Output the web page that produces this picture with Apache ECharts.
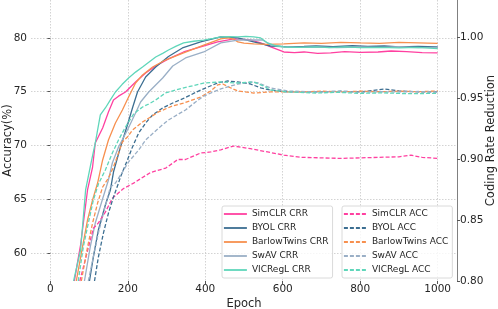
<!DOCTYPE html>
<html><head><meta charset="utf-8">
<script src="https://cdn.jsdelivr.net/npm/echarts@6/dist/echarts.min.js"></script>
<style>html,body{margin:0;padding:0;background:#fff}#c{width:498px;height:309px}</style>
</head><body><div id="c"></div>
<script>
// ---------- data ----------
const methods = ['SimCLR', 'BYOL', 'BarlowTwins', 'SwAV', 'VICRegL'];
const xTicks = [0, 200, 400, 600, 800, 1000];
const accTicks = [60, 65, 70, 75, 80];
const crrTicks = [0.80, 0.85, 0.90, 0.95, 1.00];

// Coding Rate Reduction (right axis), [epoch, value]
const simclrCRR = [[62,0.800],[70,0.815],[78,0.8295],[96,0.8746],[109,0.8934],[116,0.9131],[135,0.9254],[150,0.9385],[163,0.9484],[176,0.9515],[194,0.9549],[220,0.9631],[246,0.9705],[272,0.9762],[305,0.9820],[344,0.9877],[388,0.9918],[432,0.9959],[474,0.9984],[500,0.9980],[518,0.9975],[543,0.9951],[569,0.9918],[603,0.9877],[630,0.9872],[655,0.9877],[690,0.9865],[724,0.9869],[760,0.9880],[800,0.9874],[846,0.9877],[880,0.9885],[920,0.9880],[960,0.9872],[1000,0.9869]];
const byolCRR = [[101,0.800],[111,0.8197],[124,0.8418],[142,0.8623],[155,0.8746],[163,0.8893],[181,0.9098],[199,0.9279],[212,0.9418],[225,0.9549],[246,0.9672],[272,0.9754],[305,0.9840],[341,0.9910],[388,0.9959],[440,1.0000],[484,0.9992],[525,0.9959],[569,0.9926],[613,0.9918],[655,0.9922],[686,0.9926],[730,0.9920],[780,0.9928],[820,0.9922],[862,0.9926],[900,0.9918],[950,0.9922],[1000,0.9918]];
const barlowCRR = [[67,0.800],[83,0.8279],[96,0.8500],[109,0.8664],[122,0.8803],[135,0.8992],[150,0.9156],[168,0.9295],[186,0.9402],[202,0.9508],[220,0.9623],[238,0.9689],[264,0.9754],[297,0.9811],[344,0.9869],[396,0.9934],[440,0.9984],[460,0.9992],[475,0.9980],[484,0.9959],[500,0.9950],[525,0.9943],[560,0.9940],[603,0.9943],[655,0.9951],[700,0.9948],[750,0.9955],[800,0.9951],[850,0.9948],[900,0.9955],[950,0.9951],[1000,0.9947]];
const swavCRR = [[88,0.800],[103,0.8279],[116,0.8475],[134,0.8664],[150,0.8828],[160,0.8967],[176,0.9098],[199,0.9238],[220,0.9377],[233,0.9467],[254,0.9549],[290,0.9664],[316,0.9762],[349,0.9828],[396,0.9877],[440,0.9951],[484,0.9975],[525,0.9975],[548,0.9975],[569,0.9934],[603,0.9918],[650,0.9915],[686,0.9918],[740,0.9912],[800,0.9918],[850,0.9915],[900,0.9920],[950,0.9912],[1000,0.9915]];
const vicreglCRR = [[60,0.800],[78,0.8254],[91,0.8746],[104,0.8951],[116,0.9131],[129,0.9361],[142,0.9418],[155,0.9484],[168,0.9549],[185,0.9610],[202,0.9664],[220,0.9712],[238,0.9754],[255,0.9795],[272,0.9836],[290,0.9866],[305,0.9893],[325,0.9925],[344,0.9951],[370,0.9965],[396,0.9975],[420,0.9988],[440,1.0000],[462,1.0003],[484,1.0000],[505,1.0005],[525,1.0000],[543,0.9992],[561,0.9951],[580,0.9930],[603,0.9918],[640,0.9915],[686,0.9918],[720,0.9912],[760,0.9918],[800,0.9912],[850,0.9915],[900,0.9910],[950,0.9915],[1000,0.9905]];

// Accuracy (left axis), [epoch, value]
const simclrACC = [[76,57.4],[111,62.3],[124,62.8],[142,63.8],[160,65.1],[189,66.0],[215,66.5],[228,66.8],[259,67.5],[298,67.9],[329,68.7],[349,68.7],[388,69.3],[414,69.4],[440,69.6],[473,69.95],[517,69.7],[561,69.4],[603,69.1],[650,68.9],[700,68.85],[750,68.8],[800,68.85],[850,68.9],[900,68.95],[931,69.1],[960,68.9],[1000,68.8]];
const byolACC = [[114,57.4],[124,59.63],[137,61.86],[150,63.72],[163,65.21],[176,66.51],[181,67.07],[199,68.65],[212,69.86],[228,71.16],[246,72.09],[264,72.84],[290,73.49],[316,73.95],[341,74.33],[388,75.16],[432,75.81],[458,76.0],[484,75.91],[517,75.72],[543,75.35],[569,75.16],[613,74.98],[686,74.98],[750,75.05],[800,74.98],[862,75.26],[900,75.07],[950,75.0],[1000,75.0]];
const barlowACC = [[80,57.4],[96,60.56],[109,62.79],[122,64.65],[135,66.14],[150,66.98],[163,68.0],[176,69.3],[186,70.33],[199,70.79],[212,71.44],[225,71.81],[238,72.19],[259,72.65],[279,73.12],[315,73.67],[344,73.95],[388,74.51],[414,75.07],[432,75.63],[445,75.72],[466,75.35],[484,75.07],[525,74.88],[569,74.98],[650,74.98],[700,75.05],[750,74.98],[800,75.05],[850,75.0],[900,75.05],[950,75.0],[1000,75.07]];
const swavACC = [[98,57.4],[111,59.63],[124,61.86],[137,63.72],[155,66.14],[168,66.51],[186,67.53],[202,68.47],[228,69.58],[246,70.51],[280,71.63],[305,72.37],[331,72.93],[349,73.3],[375,74.05],[396,74.6],[440,75.26],[484,75.72],[517,75.91],[538,75.81],[569,75.35],[613,75.07],[686,74.98],[750,75.02],[800,74.95],[850,75.0],[900,74.98],[950,75.02],[1000,74.98]];
const vicreglACC = [[72,57.4],[85,60.56],[98,62.79],[111,64.93],[124,66.42],[142,67.72],[160,69.3],[176,70.51],[194,71.72],[215,72.93],[238,73.58],[254,73.86],[272,74.23],[297,74.88],[323,75.16],[354,75.44],[396,75.81],[440,75.91],[484,75.81],[525,75.91],[551,75.53],[569,75.16],[613,74.98],[686,74.88],[740,74.95],[800,74.85],[860,74.9],[920,74.82],[1000,74.85]];

// ---------- style ----------
const colors = ['#FF40A0', '#3C6E91', '#F7904F', '#9AAFC6', '#5FD6BA'];
const FONT = 'DejaVu Sans';
const TXT = '#262626';
const crrData = [simclrCRR, byolCRR, barlowCRR, swavCRR, vicreglCRR];
const accData = [simclrACC, byolACC, barlowACC, swavACC, vicreglACC];

const near = (arr, v) => arr.some(t => Math.abs(t - v) < 1e-6);
const series = [];
methods.forEach((m, i) => {
  series.push({
    name: m + ' CRR', type: 'line', yAxisIndex: 1, data: crrData[i],
    symbol: 'none', showSymbol: false, clip: true,
    lineStyle: { color: colors[i], width: 1.3 }, itemStyle: { color: colors[i] }
  });
});
methods.forEach((m, i) => {
  series.push({
    name: m + ' ACC', type: 'line', yAxisIndex: 0, data: accData[i],
    symbol: 'none', showSymbol: false, clip: true,
    lineStyle: { color: colors[i], width: 1.3, type: [4, 2] }, itemStyle: { color: colors[i] }
  });
});

const gridLine = { show: true, showMinLine: false, showMaxLine: false, lineStyle: { color: '#c8c8c8', width: 0.8, type: [1.5, 1.5] } };
const legendBase = {
  orient: 'vertical', top: 206, itemWidth: 23, itemHeight: 10, itemGap: 4,
  padding: [3, 4, 3, 1], backgroundColor: 'rgba(255,255,255,0.8)',
  borderColor: '#d0d0d0', borderWidth: 0.8, borderRadius: 2, selectedMode: false,
  textStyle: { fontFamily: FONT, fontSize: 9, color: TXT, lineHeight: 10 },
  lineStyle: { width: 1.8 },
  itemStyle: { color: 'transparent', borderColor: 'transparent', borderWidth: 0, opacity: 0 }
};

const chart = echarts.init(document.getElementById('c'), null, { renderer: 'canvas' });
chart.setOption({
  animation: false,
  backgroundColor: '#fff',
  textStyle: { fontFamily: FONT },
  grid: { left: 31, right: 41, top: 0, bottom: 28, containLabel: false, outerBoundsMode: 'none' },
  legend: [
    Object.assign({}, legendBase, { left: 222, data: methods.map(m => m + ' CRR') }),
    Object.assign({}, legendBase, { left: 342, data: methods.map(m => m + ' ACC') })
  ],
  xAxis: {
    type: 'value', min: -50, max: 1050,
    name: 'Epoch', nameLocation: 'middle', nameGap: 17, nameMoveOverlap: false,
    nameTextStyle: { fontFamily: FONT, fontSize: 11.5, color: TXT },
    axisLine: { show: false },
    axisTick: { show: true, length: 3, lineStyle: { color: '#555' } },
    axisLabel: { fontFamily: FONT, fontSize: 10.5, color: TXT, margin: 3, showMinLabel: false, showMaxLabel: false,
      formatter: v => near(xTicks, v) ? String(Math.round(v)) : '' },
    splitLine: gridLine
  },
  yAxis: [
    {
      type: 'value', position: 'left', min: 57.4, max: 83.53,
      name: 'Accuracy(%)', nameLocation: 'middle', nameGap: 17, nameRotate: 90, nameMoveOverlap: false,
      nameTextStyle: { fontFamily: FONT, fontSize: 11.5, color: TXT },
      axisLine: { show: false },
      axisTick: { show: true, length: 3, lineStyle: { color: '#555' } },
      axisLabel: { fontFamily: FONT, fontSize: 10.5, color: TXT, margin: 4, showMinLabel: false, showMaxLabel: false,
        formatter: v => near(accTicks, v) ? String(Math.round(v)) : '' },
      splitLine: gridLine
    },
    {
      type: 'value', position: 'right', min: 0.80, max: 1.0303, interval: 0.05,
      name: 'Coding Rate Reduction', nameLocation: 'middle', nameGap: 28, nameRotate: 90, nameMoveOverlap: false,
      nameTextStyle: { fontFamily: FONT, fontSize: 11.5, color: TXT },
      axisLine: { show: true, lineStyle: { color: '#808080', width: 1 } },
      axisTick: { show: true, length: 3, lineStyle: { color: '#555' } },
      axisLabel: { fontFamily: FONT, fontSize: 10.5, color: TXT, margin: 3, showMaxLabel: false,
        formatter: v => near(crrTicks, v) ? v.toFixed(2) : '' },
      splitLine: { show: false }
    }
  ],
  series: series
});
</script>
</body></html>
